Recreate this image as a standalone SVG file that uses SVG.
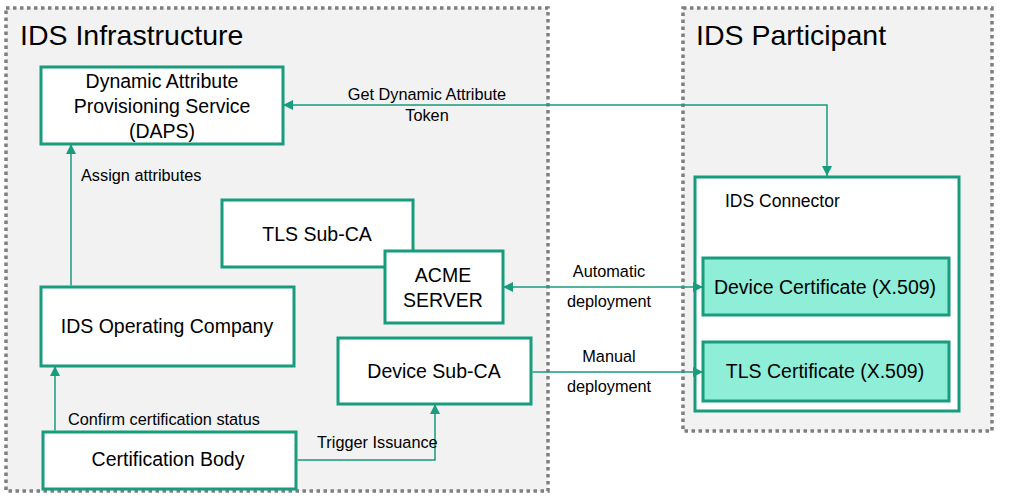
<svg xmlns="http://www.w3.org/2000/svg" width="1011" height="496" viewBox="0 0 1011 496">
  <style>
    .container { fill: #f2f2f2; stroke: #7f7f7f; stroke-width: 3.5; stroke-dasharray: 3.5 3.5; }
    .box { fill: #ffffff; stroke: #179c7d; stroke-width: 3; }
    .cert { fill: #8eeed7; stroke: #179c7d; stroke-width: 3; }
    .conn { fill: none; stroke: #179c7d; stroke-width: 1.5; }
    text { font-family: "Liberation Sans", Arial, sans-serif; fill: #000000; }
    .title { font-size: 28.5px; }
    .lbl { font-size: 19.5px; text-anchor: middle; }
    .edge { font-size: 16.3px; }
    .mid { text-anchor: middle; }
  </style>
  <defs>
    <marker id="arrow" viewBox="0 0 10 10" refX="10" refY="5" markerWidth="10" markerHeight="10" markerUnits="userSpaceOnUse" orient="auto-start-reverse">
      <path d="M0,0 L10,5 L0,10 z" fill="#179c7d"/>
    </marker>
  </defs>

  <g id="ids-infrastructure">
    <rect class="container" x="6" y="8" width="542" height="483"/>
    <text class="title" x="20" y="45">IDS Infrastructure</text>
  </g>
  <g id="ids-participant">
    <rect class="container" x="683" y="8" width="309" height="423"/>
    <text class="title" x="696" y="45">IDS Participant</text>
  </g>

  <g id="daps">
    <rect class="box" x="41" y="67" width="242" height="77"/>
    <text class="lbl" x="162" y="88">Dynamic Attribute</text>
    <text class="lbl" x="162" y="113">Provisioning Service</text>
    <text class="lbl" x="162" y="138">(DAPS)</text>
  </g>
  <g id="tls-sub-ca">
    <rect class="box" x="222" y="200" width="191" height="67"/>
    <text class="lbl" x="317" y="241">TLS Sub-CA</text>
  </g>
  <g id="acme-server">
    <rect class="box" x="385" y="251" width="118" height="72"/>
    <text class="lbl" x="443" y="282">ACME</text>
    <text class="lbl" x="443" y="307">SERVER</text>
  </g>
  <g id="ids-operating-company">
    <rect class="box" x="41" y="287" width="253" height="79"/>
    <text class="lbl" x="167" y="333">IDS Operating Company</text>
  </g>
  <g id="device-sub-ca">
    <rect class="box" x="338" y="338" width="193" height="66"/>
    <text class="lbl" x="434" y="378">Device Sub-CA</text>
  </g>
  <g id="certification-body">
    <rect class="box" x="43" y="432" width="253" height="57"/>
    <text class="lbl" x="168" y="466">Certification Body</text>
  </g>
  <g id="ids-connector">
    <rect class="box" x="695" y="177" width="264" height="234"/>
    <text x="725" y="207" style="font-size:17.5px">IDS Connector</text>
  </g>
  <g id="device-certificate">
    <rect class="cert" x="703" y="258" width="246" height="57"/>
    <text class="lbl" x="825" y="294">Device Certificate (X.509)</text>
  </g>
  <g id="tls-certificate">
    <rect class="cert" x="703" y="342" width="246" height="59"/>
    <text class="lbl" x="825" y="378">TLS Certificate (X.509)</text>
  </g>

  <g id="connectors">
    <path class="conn" d="M827,176 L827,105 L283,105" marker-start="url(#arrow)" marker-end="url(#arrow)"/>
    <text class="edge mid" x="427" y="100">Get Dynamic Attribute</text>
    <text class="edge mid" x="427" y="121">Token</text>

    <path class="conn" d="M71,285.5 L71,144" marker-end="url(#arrow)"/>
    <text class="edge" x="81" y="181">Assign attributes</text>

    <path class="conn" d="M55,430.5 L55,366" marker-end="url(#arrow)"/>
    <text class="edge" x="68" y="425">Confirm certification status</text>

    <path class="conn" d="M297.5,460 L435,460 L435,404" marker-end="url(#arrow)"/>
    <text class="edge" x="317" y="448">Trigger Issuance</text>

    <path class="conn" d="M503,287 L703,287" marker-start="url(#arrow)" marker-end="url(#arrow)"/>
    <text class="edge mid" x="609" y="277">Automatic</text>
    <text class="edge mid" x="609" y="307">deployment</text>

    <path class="conn" d="M532.5,372 L703,372" marker-end="url(#arrow)"/>
    <text class="edge mid" x="609" y="362">Manual</text>
    <text class="edge mid" x="609" y="392">deployment</text>
  </g>
</svg>
